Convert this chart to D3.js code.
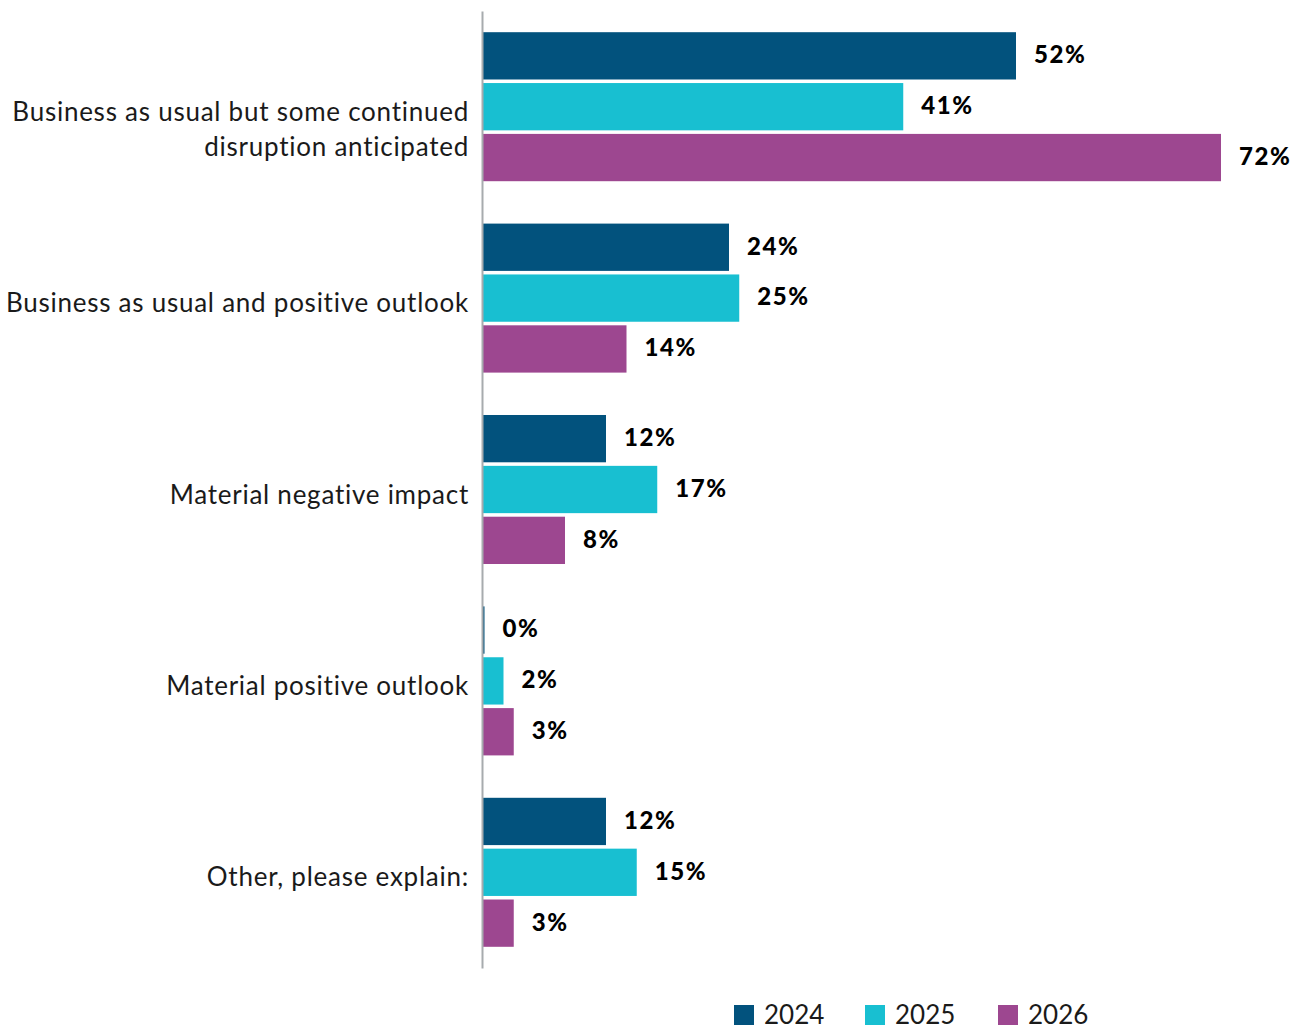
<!DOCTYPE html>
<html>
<head>
<meta charset="utf-8">
<script src="https://cdn.jsdelivr.net/npm/d3@7"></script>
<style>
  html, body { margin: 0; padding: 0; background: #ffffff; }
  svg { display: block; }
  .cat { font-family: Lato, "Open Sans", sans-serif; font-weight: 400; font-size: 26px; letter-spacing: 0.75px; fill: #1a1a1a; }
  .val { font-family: Lato, "Open Sans", sans-serif; font-weight: 900; font-size: 24px; letter-spacing: 1.6px; fill: #000000; }
  .leg { font-family: Lato, "Open Sans", sans-serif; font-weight: 400; font-size: 26px; fill: #1a1a1a; }
</style>
</head>
<body>
<svg id="chart" width="1301" height="1030"></svg>
<script>
// Survey responses by outlook category, percent of respondents per year
const categories = [
  ["Business as usual but some continued", "disruption anticipated"],
  ["Business as usual and positive outlook"],
  ["Material negative impact"],
  ["Material positive outlook"],
  ["Other, please explain:"]
];
const years = ["2024", "2025", "2026"];
const values2024 = [52, 24, 12, 0, 12];
const values2025 = [41, 25, 17, 2, 15];
const values2026 = [72, 14, 8, 3, 3];
const colors = ["#02527d", "#18bfd1", "#9d4790"];

const series = [values2024, values2025, values2026];
const catKeys = categories.map(c => c.join(" "));

const svg = d3.select("#chart");

const x = d3.scaleLinear().domain([0, 72]).range([483, 1221]);
const y = d3.scaleBand().domain(catKeys).range([11, 968]).paddingInner(0.2215).paddingOuter(0.11075);
const yInner = d3.scaleBand().domain(years).range([0, y.bandwidth()]).paddingInner(0.07);

const groups = svg.append("g").selectAll("g")
  .data(catKeys)
  .join("g")
  .attr("transform", d => `translate(0,${y(d)})`);

groups.each(function(key, i) {
  const g = d3.select(this);
  years.forEach((yr, j) => {
    const v = series[j][i];
    // keep a hairline visible for zero values
    const w = Math.max(x(v) - x(0), 1.5);
    g.append("rect")
      .attr("x", x(0))
      .attr("y", yInner(yr))
      .attr("width", w)
      .attr("height", yInner.bandwidth())
      .attr("fill", colors[j]);
    g.append("text")
      .attr("class", "val")
      .attr("x", x(0) + w + 18)
      .attr("y", yInner(yr) + yInner.bandwidth() / 2 - 1)
      .attr("dy", "0.35em")
      .text(v + "%");
  });
});

// Category labels, right-aligned against the axis
const labels = svg.append("g").selectAll("text")
  .data(categories)
  .join("text")
  .attr("class", "cat")
  .attr("text-anchor", "end")
  .attr("x", 469)
  .attr("y", (d, i) => y(catKeys[i]) + y.bandwidth() / 2 + 5);
labels.each(function(lines) {
  const t = d3.select(this);
  lines.forEach((ln, k) => {
    t.append("tspan").attr("x", 469).attr("dy", k === 0 ? "0.35em" : "35px").text(ln);
  });
});

// Vertical baseline axis
const yAxis = d3.axisLeft(y).tickSize(0).tickFormat("");
svg.append("g")
  .attr("transform", `translate(${x(0) - 1},0)`)
  .call(yAxis)
  .call(g => g.select(".domain").attr("stroke", "#a7abae").attr("stroke-width", 2));

// Legend
const legX = [734, 865, 998];
const legend = svg.append("g").selectAll("g")
  .data(years)
  .join("g")
  .attr("transform", (d, i) => `translate(${legX[i]},1005)`);
legend.append("rect").attr("width", 20).attr("height", 20).attr("fill", (d, i) => colors[i]);
legend.append("text").attr("class", "leg").attr("x", 30).attr("y", 19).text(d => d);
</script>
</body>
</html>
